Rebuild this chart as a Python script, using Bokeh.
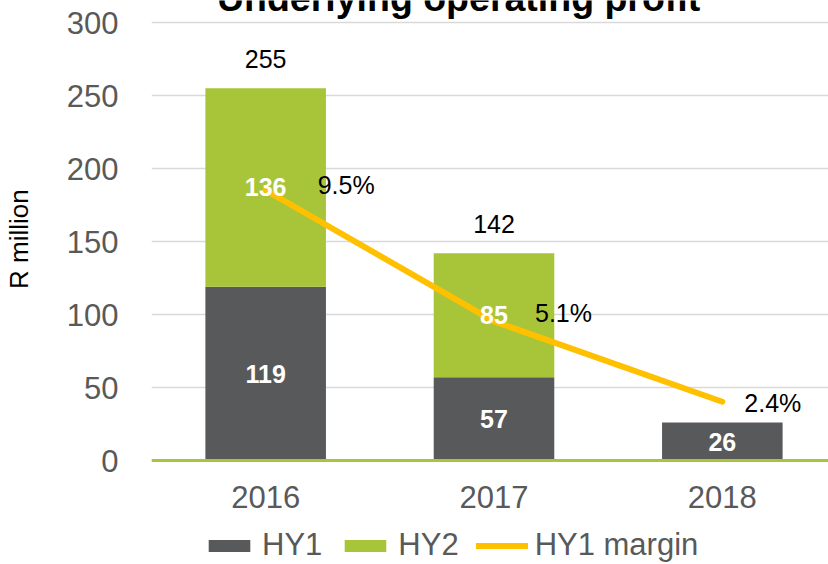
from bokeh.plotting import figure
from bokeh.models import Range1d, FixedTicker, ColumnDataSource, Legend, LegendItem
from bokeh.core.properties import value
from bokeh.embed import file_html
from bokeh.resources import INLINE

# ---- data ----
years = ["2016", "2017", "2018"]
hy1 = [119, 57, 26]
hy2 = [136, 85, 0]
hy1_margin = [9.5, 5.1, 2.4]
margin_text = ["9.5%", "5.1%", "2.4%"]
y_ticks = [0, 50, 100, 150, 200, 250, 300]
title_text = "Underlying operating profit"
y_label = "R million"
series_names = ["HY1", "HY2", "HY1 margin"]

# ---- styles ----
C_HY1 = "#58595B"
C_HY2 = "#A8C539"
C_LINE = "#FFC000"
C_TICK = "#595959"
FONT = "Liberation Sans"
margin_dx = [52, 41, 22]
margin_dy = [-5, -8, 1]
# non-breaking spaces lift the rotated axis title to where the original sits
LABEL_PAD = "\u00a0" * 12

xs = list(range(len(years)))
Y_START, Y_END = -71.23, 315.07
# secondary (margin) scale
A, B = 20.4, -8.7

p = figure(width=828, height=564,
           x_range=Range1d(-0.5, 2.465), y_range=Range1d(Y_START, Y_END),
           output_backend="svg", toolbar_location=None,
           min_border_left=149, min_border_right=0,
           min_border_top=0, min_border_bottom=0)
p.extra_y_ranges = {"pct": Range1d((Y_START - B) / A, (Y_END - B) / A)}
p.outline_line_color = None
p.background_fill_color = "white"
p.border_fill_color = "white"

# grid
p.xgrid.grid_line_color = None
p.ygrid.ticker = FixedTicker(ticks=y_ticks)
p.ygrid.grid_line_color = "#D9D9D9"
p.ygrid.grid_line_width = 1.6

# y axis
p.yaxis.ticker = FixedTicker(ticks=y_ticks)
p.yaxis.axis_line_color = None
p.yaxis.major_tick_line_color = None
p.yaxis.minor_tick_line_color = None
p.yaxis.major_label_text_font = FONT
p.yaxis.major_label_text_font_size = "31px"
p.yaxis.major_label_text_color = C_TICK
p.yaxis.major_label_standoff = 27
p.yaxis.axis_label = LABEL_PAD + y_label
p.yaxis.axis_label_text_font = FONT
p.yaxis.axis_label_text_font_size = "26px"
p.yaxis.axis_label_text_font_style = "normal"
p.yaxis.axis_label_text_color = "#000000"
p.yaxis.axis_label_standoff = 30

# x axis, drawn at y = 0
p.xaxis.fixed_location = 0
p.xaxis.ticker = FixedTicker(ticks=xs)
p.xaxis.major_label_overrides = {i: y for i, y in zip(xs, years)}
p.xaxis.axis_line_color = C_HY2
p.xaxis.axis_line_width = 3
p.xaxis.major_tick_line_color = None
p.xaxis.minor_tick_line_color = None
p.xaxis.major_label_text_font = FONT
p.xaxis.major_label_text_font_size = "31px"
p.xaxis.major_label_text_color = C_TICK
p.xaxis.major_label_standoff = 19

# bars
src = ColumnDataSource(dict(
    x=xs, hy1=hy1, hy2=hy2,
    top2=[a + b for a, b in zip(hy1, hy2)],
))
bw = 0.528
r1 = p.vbar(x="x", bottom=0, top="hy1", width=bw, source=src,
            fill_color=C_HY1, line_color=None)
r2 = p.vbar(x="x", bottom="hy1", top="top2", width=bw, source=src,
            fill_color=C_HY2, line_color=None)

# margin line
rl = p.line(x=xs, y=hy1_margin, y_range_name="pct", line_color=C_LINE,
            line_width=6, line_cap="round", line_join="round")

# segment labels (white bold)
seg_src = ColumnDataSource(dict(
    x=xs + [x for x, v in zip(xs, hy2) if v > 0],
    y=[v / 2 for v in hy1] + [a + b / 2 for a, b in zip(hy1, hy2) if b > 0],
    t=[str(v) for v in hy1] + [str(v) for v in hy2 if v > 0],
))
p.text(x="x", y="y", text="t", source=seg_src, text_color="white",
       text_font=value(FONT), text_font_size="25px", text_font_style="bold",
       text_align="center", text_baseline="middle")

# totals above stacks
tot_src = ColumnDataSource(dict(
    x=[x for x, v in zip(xs, hy2) if v > 0],
    y=[a + b for a, b in zip(hy1, hy2) if b > 0],
    t=[str(a + b) for a, b in zip(hy1, hy2) if b > 0],
))
p.text(x="x", y="y", text="t", source=tot_src, text_color="black",
       text_font=value(FONT), text_font_size="25px",
       text_align="center", text_baseline="middle", y_offset=-29)

# margin labels
m_src = ColumnDataSource(dict(x=xs, y=hy1_margin, t=margin_text,
                              dx=margin_dx, dy=margin_dy))
p.text(x="x", y="y", text="t", source=m_src, y_range_name="pct",
       text_color="black", text_font=value(FONT), text_font_size="25px",
       text_align="left", text_baseline="middle",
       x_offset="dx", y_offset="dy")

# chart title (cut off at the top edge, as in the original)
p.text(x=[0.845], y=[307.5], text=[title_text], text_color="black",
       text_font=value(FONT), text_font_size="37.5px", text_font_style="bold",
       text_align="center", text_baseline="middle", y_offset=-14)

# legend
legend = Legend(items=[
    LegendItem(label=series_names[0], renderers=[r1]),
    LegendItem(label=series_names[1], renderers=[r2]),
    LegendItem(label=series_names[2], renderers=[rl]),
], orientation="horizontal", location=(52, 1))
legend.background_fill_alpha = 0
legend.border_line_color = None
legend.padding = 0
legend.margin = 0
legend.spacing = 17
legend.glyph_width = 52
legend.glyph_height = 15
legend.label_standoff = 7
legend.label_text_font = FONT
legend.label_text_font_size = "31px"
legend.label_text_color = C_TICK
p.add_layout(legend, "center")

open("out.html", "w").write(file_html(p, INLINE))
